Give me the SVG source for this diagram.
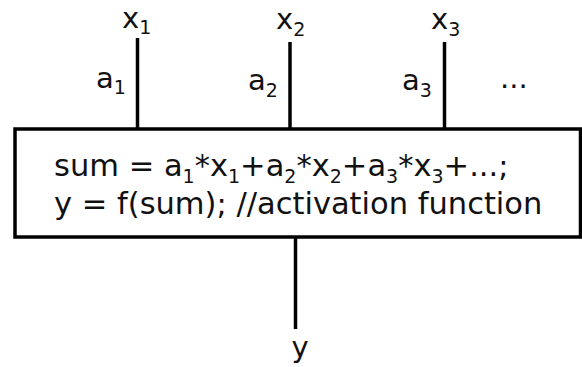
<svg xmlns="http://www.w3.org/2000/svg" width="582" height="367" viewBox="0 0 582 367">
<style>
.t{font-family:"DejaVu Sans",sans-serif;fill:#111;font-size:29px}
.b{font-family:"DejaVu Sans",sans-serif;fill:#111;font-size:30.5px}
.s{font-size:19px}
.ln{stroke:#000;stroke-width:3.5;fill:none}
</style>
<rect width="582" height="367" fill="#fff"/>
<g id="connectors">
<line class="ln" x1="137.5" y1="38" x2="137.5" y2="129"/>
<line class="ln" x1="290" y1="42" x2="290" y2="129"/>
<line class="ln" x1="444.5" y1="42" x2="444.5" y2="129"/>
<line class="ln" x1="295.5" y1="237" x2="295.5" y2="329"/>
</g>
<g id="neuron">
<rect class="ln" x="15" y="129" width="565.5" height="108"/>
<text class="b" x="54" y="176">sum = a<tspan class="s" dy="7">1</tspan><tspan dy="-7">*x</tspan><tspan class="s" dy="7">1</tspan><tspan dy="-7">+a</tspan><tspan class="s" dy="7">2</tspan><tspan dy="-7">*x</tspan><tspan class="s" dy="7">2</tspan><tspan dy="-7">+a</tspan><tspan class="s" dy="7">3</tspan><tspan dy="-7">*x</tspan><tspan class="s" dy="7">3</tspan><tspan dy="-7">+...;</tspan></text>
<text class="b" x="54" y="214">y = f(sum); //activation function</text>
</g>
<g id="input-x1"><text class="t" x="122" y="28">x<tspan class="s" dy="6">1</tspan></text></g>
<g id="weight-a1"><text class="t" x="96" y="88">a<tspan class="s" dy="6">1</tspan></text></g>
<g id="input-x2"><text class="t" x="276" y="29">x<tspan class="s" dy="7">2</tspan></text></g>
<g id="weight-a2"><text class="t" x="248" y="90">a<tspan class="s" dy="7">2</tspan></text></g>
<g id="input-x3"><text class="t" x="431" y="29">x<tspan class="s" dy="7">3</tspan></text></g>
<g id="weight-a3"><text class="t" x="402" y="90">a<tspan class="s" dy="7">3</tspan></text></g>
<g id="more"><text class="t" x="500" y="88">...</text></g>
<g id="output-y"><text class="t" x="300" y="357" text-anchor="middle">y</text></g>
</svg>
